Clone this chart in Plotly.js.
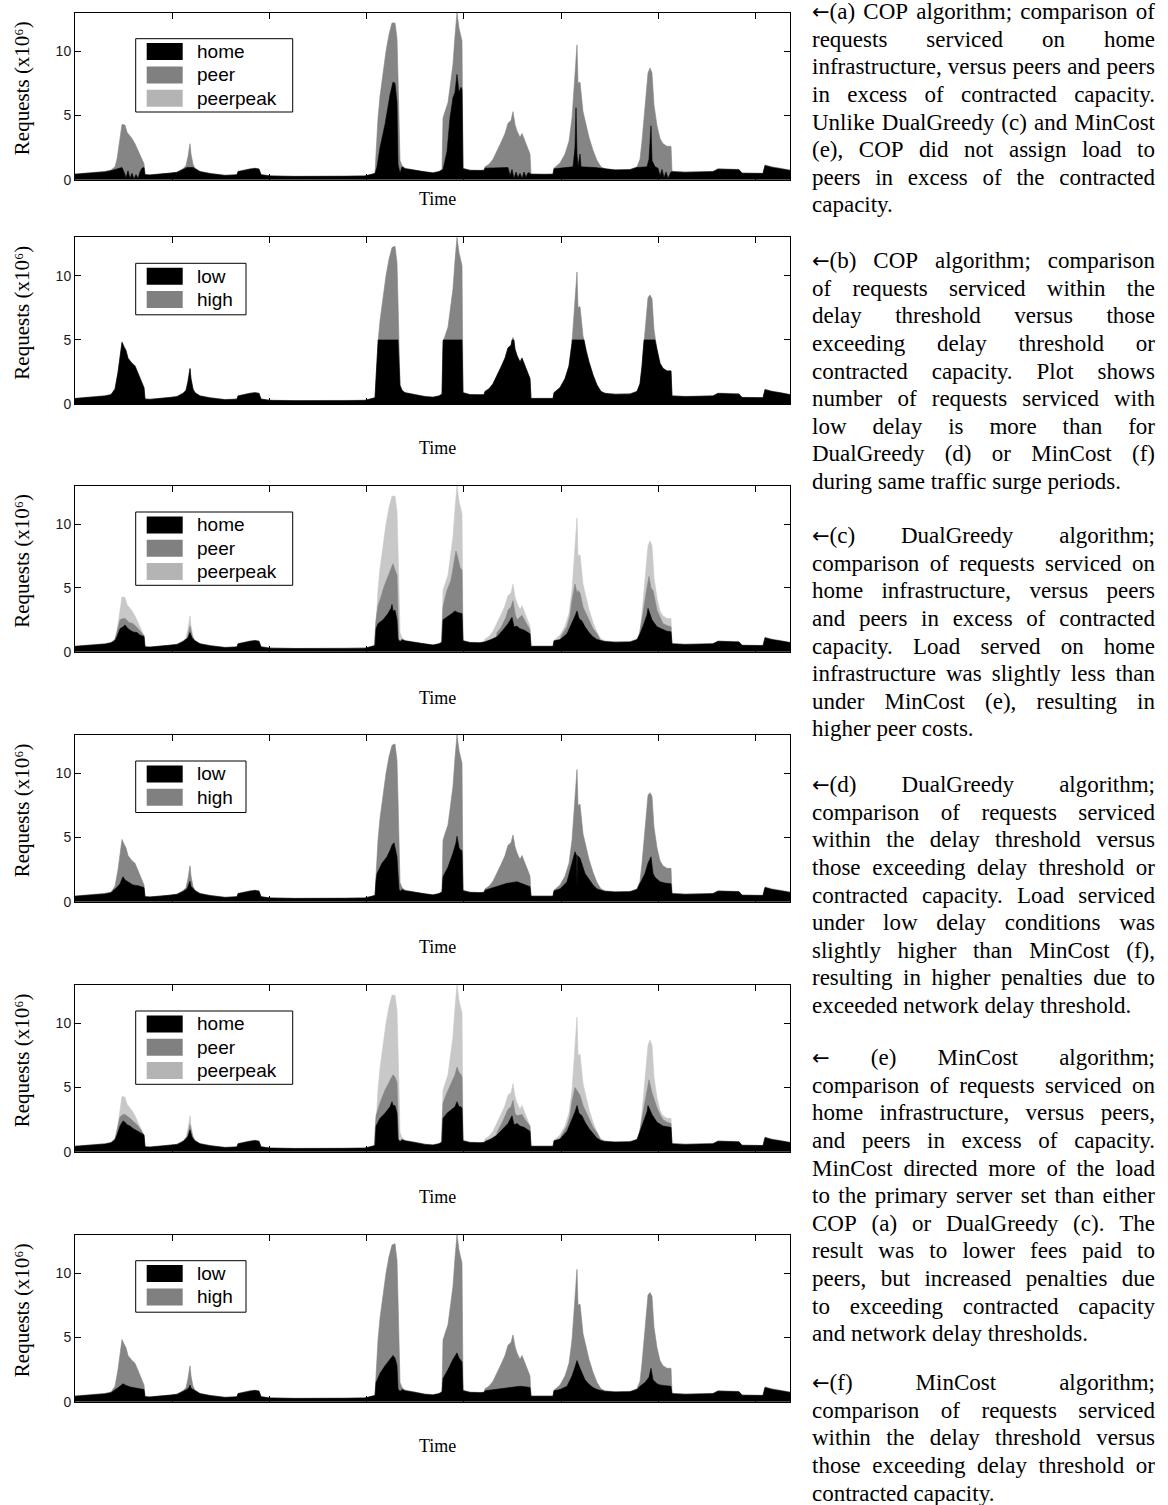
<!DOCTYPE html>
<html><head><meta charset="utf-8">
<script src="https://cdn.plot.ly/plotly-3.0.1.min.js"></script>
<style>
body{margin:0;background:#fff;}
#chart{position:absolute;left:0;top:0;width:1168px;height:1505px;}
#cap{position:absolute;left:812px;top:0;width:343px;font-family:'Liberation Serif','Times New Roman',serif;font-size:23px;color:#000;}
.ln{position:absolute;left:0;width:343px;height:27.6px;line-height:27.6px;display:flex;justify-content:space-between;white-space:nowrap;}
.ln.last{display:block;}
.arr{font-family:'DejaVu Sans',sans-serif;font-size:21px;}
</style></head>
<body>
<div id="chart"></div>
<div id="cap"></div>
<script>
// ---- data: time index (one step ~ 15 min; 97.2 steps per tick), requests in millions ----
const tickStep = 97.2;
const timeMax = 715;
const yTicks = [0, 5, 10];

const demandHP = [[0,0.45],[10,0.5],[20,0.55],[30,0.65],[36,0.75],[40,1.0],[42,1.6],[44,2.8],[46,3.8],[47,4.3],[50,4.25],[52,3.7],[54,3.5],[57,3.2],[60,2.8],[63,2.3],[66,1.7],[69,1.25],[70,0.4],[75,0.38],[85,0.45],[95,0.5],[102,0.6],[108,0.85],[111,1.1],[113,1.8],[115,2.8],[116,2.0],[118,1.2],[120,0.9],[125,0.65],[135,0.5],[150,0.35],[160,0.38],[162,0.4],[163,0.65],[168,0.75],[175,0.85],[180,0.9],[184,0.85],[186,0.4],[195,0.3],[220,0.27],[250,0.25],[270,0.28],[290,0.3],[296,0.4],[300,0.5],[301,2.0],[303,4.8],[305,6.5],[308,8.3],[311,10.0],[314,11.3],[317,12.2],[320,12.2],[322,11.0],[323,8.0],[324,3.0],[325,1.5],[327,1.1],[330,0.9],[340,0.75],[350,0.6],[358,0.55],[364,0.65],[367,0.8],[368,4.8],[370,5.3],[373,6.0],[376,7.8],[378,9.0],[380,11.2],[382,13.0],[384,11.8],[386,11.1],[387,10.8],[388,0.9],[395,0.75],[405,0.72],[409,0.75],[410,1.0],[414,1.2],[418,1.6],[422,2.2],[426,2.9],[430,3.6],[433,4.4],[436,4.6],[438,5.3],[440,4.3],[442,3.8],[445,3.3],[447,3.6],[449,3.2],[452,2.6],[455,2.0],[456,0.45],[470,0.42],[478,0.45],[479,0.9],[485,1.3],[490,2.0],[494,3.0],[497,4.8],[499,7.0],[501,9.5],[502,10.5],[503,7.5],[505,7.6],[508,5.3],[511,4.2],[514,3.3],[518,2.3],[522,1.5],[526,1.0],[530,0.85],[540,0.78],[555,0.8],[562,1.0],[565,1.6],[567,3.0],[569,5.0],[571,6.6],[573,8.3],[575,8.7],[577,8.3],[579,5.8],[582,4.2],[585,3.2],[588,2.8],[592,2.6],[596,2.6],[597,0.65],[610,0.6],[625,0.62],[638,0.65],[643,0.85],[655,0.85],[664,0.8],[667,0.52],[688,0.5],[690,1.15],[697,1.0],[705,0.9],[715,0.75]];

const demandDelay = [[0,0.45],[10,0.5],[20,0.55],[30,0.65],[36,0.75],[40,1.2],[43,2.5],[45,3.6],[47,4.85],[49,4.5],[51,4.2],[53,3.6],[57,3.2],[60,3.0],[63,2.4],[66,1.8],[68,1.4],[69,1.3],[70,0.4],[75,0.38],[85,0.45],[95,0.5],[102,0.6],[108,0.85],[111,1.1],[113,1.8],[115,2.8],[116,2.0],[118,1.2],[120,0.9],[125,0.65],[135,0.5],[150,0.35],[160,0.38],[162,0.4],[163,0.65],[168,0.75],[175,0.85],[180,0.9],[184,0.85],[186,0.4],[195,0.3],[220,0.27],[250,0.25],[270,0.28],[290,0.3],[296,0.4],[300,0.5],[301,2.0],[303,4.8],[305,6.5],[308,8.3],[311,10.0],[314,11.3],[317,12.2],[320,12.3],[322,11.0],[323,8.0],[324,3.0],[325,1.5],[327,1.1],[330,0.9],[340,0.75],[350,0.6],[358,0.55],[364,0.65],[367,0.8],[368,4.8],[370,5.3],[373,6.0],[376,7.8],[378,9.0],[380,11.2],[382,13.0],[384,11.8],[386,11.1],[387,10.8],[388,0.9],[395,0.75],[405,0.72],[409,0.75],[410,1.0],[414,1.2],[418,1.6],[422,2.2],[426,2.9],[430,3.6],[433,4.4],[436,4.6],[438,5.2],[440,4.3],[442,3.8],[445,3.3],[447,3.6],[449,3.2],[452,2.6],[455,2.0],[456,0.45],[470,0.42],[478,0.45],[479,0.9],[485,1.3],[490,2.0],[494,3.0],[497,4.8],[499,7.0],[501,9.5],[502,10.3],[503,7.5],[505,7.6],[508,5.3],[511,4.2],[514,3.3],[518,2.3],[522,1.5],[526,1.0],[530,0.85],[540,0.78],[555,0.8],[562,1.0],[565,1.6],[567,3.0],[569,5.0],[571,6.6],[573,8.3],[575,8.5],[577,8.2],[579,5.8],[582,4.2],[585,3.2],[588,2.8],[592,2.6],[596,2.6],[597,0.65],[610,0.6],[625,0.62],[638,0.65],[643,0.85],[655,0.85],[664,0.8],[667,0.52],[688,0.5],[690,1.15],[697,1.0],[705,0.9],[715,0.75]];

// (a) COP: home
const homeCOP = [[0,0.42],[10,0.47],[20,0.52],[30,0.6],[36,0.7],[40,0.8],[44,0.85],[47,0.95],[49,0.6],[51,0.15],[53,0.7],[55,0.1],[57,0.5],[59,0.05],[61,0.4],[63,0.1],[65,0.6],[67,0.9],[69,0.95],[70,0.38],[75,0.36],[85,0.43],[95,0.48],[102,0.57],[108,0.8],[112,0.95],[118,0.95],[120,0.85],[125,0.62],[135,0.47],[150,0.33],[160,0.36],[162,0.38],[163,0.62],[168,0.72],[175,0.82],[180,0.87],[184,0.82],[186,0.38],[195,0.28],[220,0.25],[250,0.23],[270,0.26],[290,0.28],[296,0.38],[300,0.48],[302,1.0],[305,2.5],[310,4.3],[315,6.6],[318,7.6],[320,7.5],[322,6.0],[323,1.2],[325,0.5],[327,1.0],[330,0.85],[340,0.72],[350,0.57],[358,0.52],[364,0.62],[367,0.75],[368,0.8],[370,1.5],[372,2.2],[375,4.8],[378,6.4],[380,6.8],[382,8.2],[384,6.8],[386,7.2],[387,7.0],[388,0.85],[395,0.72],[405,0.7],[409,0.72],[410,0.9],[433,0.95],[435,0.3],[437,0.8],[439,0.1],[441,0.6],[443,0.15],[445,0.5],[447,0.1],[449,0.6],[451,0.2],[453,0.55],[455,0.5],[456,0.42],[470,0.4],[478,0.42],[479,0.85],[498,1.0],[500,2.5],[501,5.6],[502,2.0],[503,1.0],[505,2.0],[506,1.0],[520,0.95],[526,0.9],[530,0.82],[540,0.75],[555,0.77],[562,0.95],[572,1.0],[574,1.6],[576,4.2],[577,1.5],[580,1.0],[583,0.9],[585,0.3],[587,0.8],[589,0.15],[591,0.6],[593,0.1],[595,0.5],[596,0.6],[597,0.62],[610,0.57],[625,0.6],[638,0.62],[643,0.82],[655,0.82],[664,0.77],[667,0.5],[688,0.48],[690,1.1],[697,0.95],[705,0.85],[715,0.72]];

// (b) COP: low delay
const lowCOP = [[0,0.42],[10,0.47],[20,0.52],[30,0.62],[36,0.72],[40,1.15],[43,2.45],[45,3.55],[47,4.8],[49,4.45],[51,4.15],[53,3.55],[57,3.15],[60,2.95],[63,2.35],[66,1.75],[68,1.35],[69,1.25],[70,0.38],[75,0.36],[85,0.43],[95,0.48],[102,0.57],[108,0.82],[111,1.05],[113,1.75],[115,2.75],[116,1.95],[118,1.15],[120,0.87],[125,0.62],[135,0.47],[150,0.33],[160,0.36],[162,0.38],[163,0.62],[168,0.72],[175,0.82],[180,0.87],[184,0.82],[186,0.38],[195,0.28],[220,0.25],[250,0.23],[270,0.26],[290,0.28],[296,0.38],[300,0.48],[301,1.95],[303,4.75],[303.2,5.0],[323,5.0],[324,2.95],[325,1.45],[327,1.05],[330,0.87],[340,0.72],[350,0.57],[358,0.52],[364,0.62],[367,0.77],[368,4.75],[368.1,5.0],[387,5.0],[388,0.87],[395,0.72],[405,0.7],[409,0.72],[410,0.97],[414,1.17],[418,1.57],[422,2.17],[426,2.87],[430,3.57],[433,4.37],[436,4.57],[437,5.0],[439,5.0],[440,4.27],[442,3.77],[445,3.27],[447,3.57],[449,3.17],[452,2.57],[455,1.97],[456,0.42],[470,0.4],[478,0.42],[479,0.87],[485,1.27],[490,1.97],[494,2.97],[497,4.75],[497.2,5.0],[509,5.0],[511,4.17],[514,3.27],[518,2.27],[522,1.47],[526,0.97],[530,0.82],[540,0.75],[555,0.77],[562,0.97],[565,1.57],[567,2.97],[569,4.97],[569.1,5.0],[580,5.0],[582,4.17],[585,3.17],[588,2.77],[592,2.57],[596,2.57],[597,0.62],[610,0.57],[625,0.6],[638,0.62],[643,0.82],[655,0.82],[664,0.77],[667,0.5],[688,0.48],[690,1.12],[697,0.97],[705,0.87],[715,0.72]];

// (c) DualGreedy: home and home+peer
const homeDG = [[0,0.42],[10,0.47],[20,0.52],[30,0.6],[36,0.7],[40,0.9],[42,1.2],[45,1.8],[48,1.95],[50,2.1],[53,1.8],[58,1.55],[62,1.5],[65,1.3],[69,1.2],[70,0.38],[75,0.36],[85,0.43],[95,0.48],[102,0.57],[108,0.8],[111,1.0],[113,1.1],[115,1.5],[117,1.1],[120,0.85],[125,0.62],[135,0.47],[150,0.33],[160,0.36],[162,0.38],[163,0.62],[168,0.72],[175,0.82],[180,0.87],[184,0.82],[186,0.38],[195,0.28],[220,0.25],[250,0.23],[270,0.26],[290,0.28],[296,0.38],[300,0.48],[301,1.8],[303,2.2],[308,2.5],[313,3.0],[316,3.4],[317,3.7],[318,3.2],[320,3.25],[322,2.5],[323,1.0],[325,0.8],[327,0.95],[330,0.85],[340,0.72],[350,0.57],[358,0.52],[364,0.62],[367,0.75],[368,2.5],[372,2.7],[377,3.0],[380,3.2],[382,3.1],[386,3.0],[387,3.0],[388,0.85],[395,0.72],[405,0.7],[409,0.72],[410,0.78],[416,0.95],[422,1.17],[428,1.7],[433,2.2],[437,2.7],[439,1.95],[442,2.0],[445,1.8],[449,1.7],[452,1.56],[455,1.4],[456,0.42],[470,0.4],[478,0.42],[479,0.85],[485,0.95],[492,1.4],[497,2.2],[500,2.8],[502,3.2],[504,2.6],[507,2.4],[510,1.95],[514,1.5],[518,1.17],[522,0.95],[526,0.85],[530,0.8],[540,0.75],[555,0.77],[562,0.95],[565,1.4],[568,2.0],[570,2.5],[572,2.9],[573,3.4],[575,2.9],[577,2.5],[582,1.95],[588,1.7],[592,1.6],[596,1.56],[597,0.62],[610,0.57],[625,0.6],[638,0.62],[643,0.82],[655,0.82],[664,0.77],[667,0.5],[688,0.48],[690,1.1],[697,0.95],[705,0.85],[715,0.72]];
const homePeerDG = [[0,0.2],[38,0.2],[40,0.95],[42,1.5],[45,2.5],[48,2.6],[50,2.6],[54,2.3],[58,2.2],[62,1.9],[66,1.5],[69,1.25],[70,0.2],[110,0.2],[112,1.0],[113,1.3],[115,2.0],[117,1.3],[119,0.9],[121,0.2],[299,0.2],[301,2.5],[303,3.6],[306,4.3],[309,5.1],[313,5.9],[316,6.6],[318,6.9],[320,6.4],[322,6.0],[323,3.0],[324,0.2],[366,0.2],[368,3.5],[370,4.2],[372,4.8],[376,5.6],[379,7.0],[381,7.9],[383,7.3],[385,6.6],[387,6.4],[388,0.2],[420,0.2],[422,1.5],[426,1.9],[428,2.2],[431,2.7],[433,3.25],[436,3.5],[438,4.0],[440,3.0],[442,2.5],[445,2.7],[447,2.85],[450,2.4],[452,2.1],[455,1.7],[456,0.2],[484,0.2],[486,1.2],[492,1.95],[495,2.8],[497,4.0],[500,5.3],[502,4.6],[503,4.8],[505,4.6],[508,3.5],[512,2.8],[515,2.2],[518,1.8],[522,1.4],[525,0.95],[527,0.2],[562,0.2],[564,1.2],[566,2.0],[568,3.0],[571,4.55],[574,5.9],[576,5.0],[578,4.8],[582,3.25],[585,2.7],[588,2.2],[592,2.05],[596,1.95],[597,0.2],[715,0.2]];

// (d) DualGreedy: low delay
const lowDG = [[0,0.42],[10,0.47],[20,0.52],[30,0.6],[36,0.7],[40,0.95],[43,1.2],[45,1.4],[47,1.7],[48,1.95],[50,1.7],[53,1.55],[58,1.3],[63,1.25],[68,1.15],[69,1.1],[70,0.38],[75,0.36],[85,0.43],[95,0.48],[102,0.57],[108,0.8],[112,1.0],[114,1.4],[115,1.6],[116,1.2],[118,1.0],[120,0.85],[125,0.62],[135,0.47],[150,0.33],[160,0.36],[162,0.38],[163,0.62],[168,0.72],[175,0.82],[180,0.87],[184,0.82],[186,0.38],[195,0.28],[220,0.25],[250,0.23],[270,0.26],[290,0.28],[296,0.38],[300,0.48],[301,1.6],[302,2.2],[307,3.0],[312,3.5],[315,4.0],[317,4.4],[319,4.6],[320,4.3],[322,3.5],[323,2.2],[324,1.0],[325,0.8],[327,0.95],[330,0.85],[340,0.72],[350,0.57],[358,0.52],[364,0.62],[367,0.75],[368,1.95],[373,2.7],[378,3.8],[381,4.6],[382,5.1],[384,4.2],[386,4.0],[387,4.0],[388,0.85],[395,0.72],[405,0.7],[409,0.72],[410,0.9],[422,1.17],[432,1.43],[442,1.56],[452,1.3],[455,1.17],[456,0.42],[470,0.4],[478,0.42],[479,0.85],[485,1.0],[492,1.56],[497,3.0],[500,3.9],[501.5,3.6],[502,1.0],[502.5,3.6],[505,3.4],[510,2.2],[514,1.7],[518,1.3],[522,1.0],[526,0.88],[530,0.8],[540,0.75],[555,0.77],[562,0.95],[565,1.4],[570,2.2],[573,3.0],[576,3.5],[578,2.2],[580,1.9],[585,1.56],[590,1.45],[596,1.4],[597,0.62],[610,0.57],[625,0.6],[638,0.62],[643,0.82],[655,0.82],[664,0.77],[667,0.5],[688,0.48],[690,1.1],[697,0.95],[705,0.85],[715,0.72]];

// (e) MinCost: home and home+peer
const homeMC = [[0,0.42],[10,0.47],[20,0.52],[30,0.6],[36,0.7],[40,0.95],[42,1.3],[45,2.0],[48,2.4],[50,2.3],[52,2.1],[55,2.0],[58,1.8],[62,1.65],[65,1.5],[69,1.3],[70,0.38],[75,0.36],[85,0.43],[95,0.48],[102,0.57],[108,0.8],[111,1.0],[113,1.2],[115,1.7],[117,1.15],[120,0.85],[125,0.62],[135,0.47],[150,0.33],[160,0.36],[162,0.38],[163,0.62],[168,0.72],[175,0.82],[180,0.87],[184,0.82],[186,0.38],[195,0.28],[220,0.25],[250,0.23],[270,0.26],[290,0.28],[296,0.38],[300,0.48],[301,2.0],[305,2.6],[310,3.0],[315,3.5],[317,3.9],[318,3.6],[320,3.6],[322,3.0],[323,1.0],[325,0.8],[327,0.95],[330,0.85],[340,0.72],[350,0.57],[358,0.52],[364,0.62],[367,0.75],[368,2.6],[372,3.0],[377,3.3],[380,3.5],[382,3.9],[384,3.5],[386,3.5],[387,3.4],[388,0.85],[395,0.72],[405,0.7],[409,0.72],[410,0.8],[416,1.0],[422,1.3],[428,1.8],[433,2.2],[437,2.8],[439,2.1],[442,2.2],[445,2.0],[449,1.9],[452,1.75],[455,1.6],[456,0.42],[470,0.4],[478,0.42],[479,0.85],[485,1.0],[492,1.6],[497,2.5],[500,3.1],[502,3.6],[504,3.0],[507,2.8],[510,2.3],[514,1.8],[518,1.4],[522,1.05],[526,0.88],[530,0.8],[540,0.75],[555,0.77],[562,0.95],[565,1.6],[568,2.2],[570,2.7],[572,3.1],[573,3.6],[575,3.2],[577,2.9],[582,2.3],[588,2.0],[592,1.95],[596,1.9],[597,0.62],[610,0.57],[625,0.6],[638,0.62],[643,0.82],[655,0.82],[664,0.77],[667,0.5],[688,0.48],[690,1.1],[697,0.95],[705,0.85],[715,0.72]];
const homePeerMC = [[0,0.2],[38,0.2],[40,1.0],[42,1.6],[45,2.7],[48,2.9],[50,2.9],[55,2.6],[58,2.4],[62,2.1],[66,1.7],[69,1.3],[70,0.2],[110,0.2],[112,1.1],[113,1.4],[115,2.1],[117,1.4],[119,0.9],[121,0.2],[299,0.2],[301,2.8],[305,3.8],[310,4.8],[315,5.6],[318,6.0],[320,5.8],[322,5.4],[323,2.5],[324,0.2],[366,0.2],[368,3.8],[372,4.6],[377,5.4],[380,6.0],[382,6.6],[384,6.2],[386,6.0],[387,5.8],[388,0.2],[420,0.2],[422,1.5],[428,2.4],[433,3.3],[436,3.5],[438,4.0],[440,3.0],[442,2.8],[447,2.9],[450,2.5],[455,2.0],[456,0.2],[484,0.2],[486,1.2],[492,2.0],[495,2.8],[497,3.9],[500,5.0],[503,4.6],[505,4.4],[508,3.6],[512,2.9],[515,2.4],[518,1.9],[522,1.5],[525,1.0],[527,0.2],[562,0.2],[564,1.3],[566,2.2],[568,3.0],[571,4.4],[574,5.6],[577,4.6],[582,3.4],[585,2.9],[588,2.5],[592,2.3],[596,2.2],[597,0.2],[715,0.2]];

// (f) MinCost: low delay
const lowMC = [[0,0.42],[10,0.47],[20,0.52],[30,0.6],[36,0.7],[40,0.9],[42,1.0],[45,1.2],[48,1.4],[50,1.3],[55,1.15],[60,1.1],[65,1.0],[69,0.95],[70,0.38],[75,0.36],[85,0.43],[95,0.48],[102,0.57],[108,0.8],[112,0.95],[114,1.1],[115,1.3],[116,1.05],[118,0.95],[120,0.85],[125,0.62],[135,0.47],[150,0.33],[160,0.36],[162,0.38],[163,0.62],[168,0.72],[175,0.82],[180,0.87],[184,0.82],[186,0.38],[195,0.28],[220,0.25],[250,0.23],[270,0.26],[290,0.28],[296,0.38],[300,0.48],[301,1.5],[305,2.2],[310,2.8],[315,3.3],[318,3.6],[320,3.4],[322,2.8],[323,1.0],[325,0.8],[327,0.95],[330,0.85],[340,0.72],[350,0.57],[358,0.52],[364,0.62],[367,0.75],[368,1.8],[373,2.5],[378,3.3],[382,3.8],[384,3.4],[386,3.2],[387,3.1],[388,0.85],[395,0.72],[405,0.7],[409,0.72],[410,0.85],[420,0.95],[435,1.1],[445,1.2],[452,1.15],[455,1.1],[456,0.42],[470,0.4],[478,0.42],[479,0.85],[485,0.95],[492,1.2],[497,2.0],[500,2.7],[502,3.2],[505,2.6],[510,1.7],[514,1.35],[518,1.1],[522,0.95],[526,0.88],[530,0.8],[540,0.75],[555,0.77],[562,0.95],[565,1.2],[570,1.5],[574,1.9],[576,2.6],[578,1.7],[582,1.4],[585,1.3],[590,1.25],[596,1.2],[597,0.62],[610,0.57],[625,0.6],[638,0.62],[643,0.82],[655,0.82],[664,0.77],[667,0.5],[688,0.48],[690,1.1],[697,0.95],[705,0.85],[715,0.72]];

const legendHP = ['home', 'peer', 'peerpeak'];
const legendDelay = ['low', 'high'];

// ---- captions ----
const captions = [
 {y:12, lines:['←(a) COP algorithm; comparison of','requests serviced on home','infrastructure, versus peers and peers','in excess of contracted capacity.','Unlike DualGreedy (c) and MinCost','(e), COP did not assign load to','peers in excess of the contracted','capacity.']},
 {y:261, lines:['←(b) COP algorithm; comparison','of requests serviced within the','delay threshold versus those','exceeding delay threshold or','contracted capacity. Plot shows','number of requests serviced with','low delay is more than for','DualGreedy (d) or MinCost (f)','during same traffic surge periods.']},
 {y:536, lines:['←(c) DualGreedy algorithm;','comparison of requests serviced on','home infrastructure, versus peers','and peers in excess of contracted','capacity. Load served on home','infrastructure was slightly less than','under MinCost (e), resulting in','higher peer costs.']},
 {y:785, lines:['←(d) DualGreedy algorithm;','comparison of requests serviced','within the delay threshold versus','those exceeding delay threshold or','contracted capacity. Load serviced','under low delay conditions was','slightly higher than MinCost (f),','resulting in higher penalties due to','exceeded network delay threshold.']},
 {y:1058, lines:['← (e) MinCost algorithm;','comparison of requests serviced on','home infrastructure, versus peers,','and peers in excess of capacity.','MinCost directed more of the load','to the primary server set than either','COP (a) or DualGreedy (c). The','result was to lower fees paid to','peers, but increased penalties due','to exceeding contracted capacity','and network delay thresholds.']},
 {y:1383, lines:['←(f) MinCost algorithm;','comparison of requests serviced','within the delay threshold versus','those exceeding delay threshold or','contracted capacity.']}
];
const LH = 27.6;
const cap = document.getElementById('cap');
function addWord(parent, w) {
  const s = document.createElement('span');
  if (w.startsWith('←')) {
    const a = document.createElement('span'); a.className = 'arr'; a.textContent = '←'; s.appendChild(a);
    if (w.length > 1) s.appendChild(document.createTextNode(w.slice(1)));
  } else { s.textContent = w; }
  parent.appendChild(s);
}
captions.forEach(p => {
  p.lines.forEach((ln, i) => {
    const d = document.createElement('div');
    d.className = 'ln' + (i === p.lines.length - 1 ? ' last' : '');
    d.style.top = (p.y + i * LH - LH / 2) + 'px';
    if (i === p.lines.length - 1) { d.textContent = ln; }
    else { ln.split(/\s+/).forEach(w => addWord(d, w)); }
    cap.appendChild(d);
  });
});

// ---- chart ----
const W = 1168, H = 1505;
const BLACK = '#000000', MID = '#858585', LIGHT = '#c8c8c8';
const LEG = {home: BLACK, peer: '#808080', peerpeak: '#b4b4b4', low: BLACK, high: '#808080'};
const panels = [
 {top:12.7, bottom:179.7, timeY:199, legend:legendHP, layers:[[demandHP, MID], [homeCOP, BLACK]]},
 {top:237.3, bottom:404, timeY:448, legend:legendDelay, layers:[[demandDelay, MID], [lowCOP, BLACK]]},
 {top:486, bottom:651.7, timeY:698, legend:legendHP, layers:[[demandHP, LIGHT], [homePeerDG, MID], [homeDG, BLACK]]},
 {top:735, bottom:901.7, timeY:947, legend:legendDelay, layers:[[demandDelay, MID], [lowDG, BLACK]]},
 {top:985, bottom:1151.7, timeY:1197, legend:legendHP, layers:[[demandHP, LIGHT], [homePeerMC, MID], [homeMC, BLACK]]},
 {top:1234.7, bottom:1401.7, timeY:1446, legend:legendDelay, layers:[[demandDelay, MID], [lowMC, BLACK]]}
];
const px = v => v / W, py = v => 1 - v / H;
const traces = [];
const layout = {width:W, height:H, margin:{l:0,r:0,t:0,b:0}, paper_bgcolor:'#fff', plot_bgcolor:'#fff',
  showlegend:false, shapes:[], annotations:[]};
const xDom = [75 / W, 790 / W];
const serif = 'Liberation Serif, Times New Roman, serif';
const sans = 'Liberation Sans, Arial, sans-serif';

panels.forEach((p, i) => {
  const n = i === 0 ? '' : String(i + 1);
  layout['xaxis' + n] = {domain:xDom, anchor:'y' + n, range:[0, timeMax], tick0:0, dtick:tickStep,
    ticks:'inside', ticklen:6, tickwidth:1, tickcolor:'#000', showticklabels:false, showline:true, mirror:'ticks',
    linecolor:'#000', linewidth:1, showgrid:false, zeroline:false, fixedrange:true, layer:'above traces'};
  layout['yaxis' + n] = {domain:[py(p.bottom), py(p.top)], anchor:'x' + n, range:[0, 13], tickvals:yTicks,
    ticktext:yTicks.map(String), ticks:'inside', ticklen:6, tickwidth:1, tickcolor:'#000', showline:true, mirror:'ticks',
    linecolor:'#000', linewidth:1, showgrid:false, zeroline:false, fixedrange:true, layer:'above traces',
    tickfont:{family:sans, size:14, color:'#1a1a1a'}};
  p.layers.forEach(([data, color]) => {
    traces.push({type:'scatter', mode:'lines', x:data.map(d => d[0]), y:data.map(d => d[1]),
      xaxis:'x' + n, yaxis:'y' + n, fill:'tozeroy', fillcolor:color, line:{color:color, width:0.6}, hoverinfo:'skip'});
  });
  layout.annotations.push({text:'Requests (x10⁶)', textangle:-90, xref:'paper', yref:'paper',
    x:px(22), y:py((p.top + p.bottom) / 2 - 8), xanchor:'center', yanchor:'middle', showarrow:false,
    font:{family:serif, size:21, color:'#000'}});
  layout.annotations.push({text:'Time', xref:'paper', yref:'paper', x:px(437), y:py(p.timeY),
    xanchor:'center', yanchor:'middle', showarrow:false, font:{family:serif, size:18, color:'#000'}});
  // legend box
  const nItems = p.legend.length;
  const bTop = p.top + 26, bH = nItems === 3 ? 73.3 : 51.5, bR = nItems === 3 ? 292.7 : 246;
  layout.shapes.push({type:'rect', xref:'paper', yref:'paper', x0:px(135.7), x1:px(bR), y0:py(bTop + bH), y1:py(bTop),
    line:{color:'#000', width:1}, fillcolor:'#fff', layer:'above'});
  p.legend.forEach((name, k) => {
    const sTop = bTop + 4.4 + k * 23.3;
    layout.shapes.push({type:'rect', xref:'paper', yref:'paper', x0:px(146.7), x1:px(182.7), y0:py(sTop + 17), y1:py(sTop),
      line:{width:0}, fillcolor:LEG[name], layer:'above'});
    layout.annotations.push({text:name, xref:'paper', yref:'paper', x:px(195), y:py(sTop + 8.5),
      xanchor:'left', yanchor:'middle', showarrow:false, font:{family:sans, size:19, color:'#000'}});
  });
});

Plotly.newPlot('chart', traces, layout, {staticPlot:true, displayModeBar:false});
</script>
</body></html>
